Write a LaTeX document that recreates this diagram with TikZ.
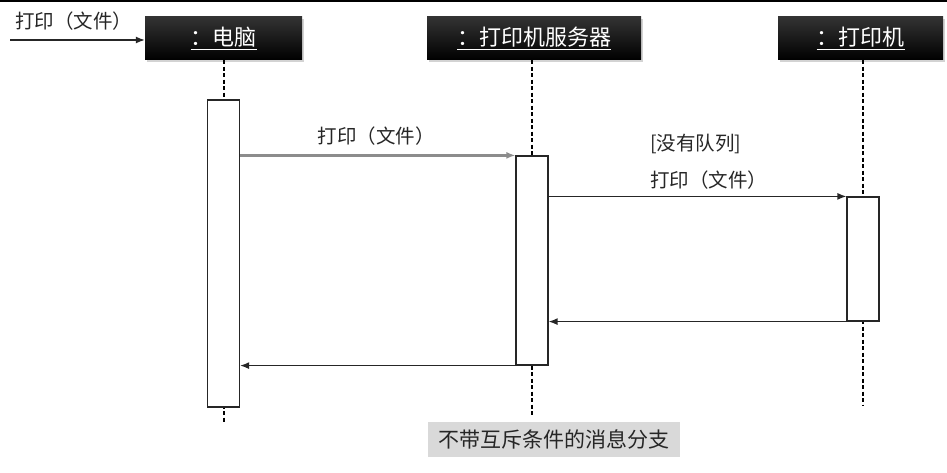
\documentclass[tikz,border=0pt]{standalone}
\usepackage{fontspec}
\setmainfont{Noto Sans CJK SC}
\usetikzlibrary{arrows.meta,shadows}

\tikzset{
  seq-head/.style={rectangle, minimum height=43pt, inner sep=0pt, top color=black!80, bottom color=black, draw=none, text=white, font=\fontsize{22}{26}\selectfont, drop shadow={shadow xshift=2pt, shadow yshift=-2pt, opacity=0.35}},
  seq-life/.style={line width=2pt, dash pattern=on 4pt off 2.5pt, draw=black},
  seq-act/.style={rectangle, draw=black!85, fill=white, line width=1.2pt, inner sep=0pt, minimum width=32pt},
  seq-msg/.style={-{Latex[length=9pt, width=7pt]}, line width=1.3pt, draw=black!85},
  seq-msg-grey/.style={-{Latex[length=9pt, width=7pt]}, line width=2.6pt, draw=black!45},
  seq-label/.style={font=\fontsize{19.5}{23}\selectfont, text=black!85, inner sep=0pt},
  seq-note/.style={rectangle, fill=black!15, inner sep=0pt, minimum width=252pt, minimum height=35pt, font=\fontsize{21}{25}\selectfont, text=black!85},
}

\begin{document}
\begin{tikzpicture}[x=1pt, y=-1pt]
    \useasboundingbox (0,0) rectangle (947,473);
    \draw[line width=2pt] (0,1) -- (947,1);

    % Nodes: object heads
    \node[seq-head, minimum width=157pt] (pc)      at (223.5, 38.5) {\underline{：电脑}};
    \node[seq-head, minimum width=214pt] (server)  at (534, 38.5)   {\underline{：打印机服务器}};
    \node[seq-head, minimum width=165pt] (printer) at (860.5, 38.5) {\underline{：打印机}};

    % Lifelines
    \coordinate (pc-end)      at (223.5, 423);
    \coordinate (server-end)  at (531.5, 415);
    \coordinate (printer-end) at (862.5, 405);
    \draw[seq-life] (pc.south) -- (pc-end);
    \draw[seq-life] (server.south -| server-end) -- (server-end);
    \draw[seq-life] (printer.south -| printer-end) -- (printer-end);

    % Nodes: activation bars
    \node[seq-act, minimum height=307pt] (pc-act)      at (223.5, 253.5) {};
    \node[seq-act, minimum height=209pt] (server-act)  at (532, 260.5)   {};
    \node[seq-act, minimum height=124pt] (printer-act) at (863, 259)     {};

    % Edges: found message
    \coordinate (start) at (10, 40);
    \draw[seq-msg] (start) -- (pc.west |- start);
    \node[seq-label] (found) at (73.5, 21) {打印（文件）};

    % Edges: calls
    \draw[seq-msg-grey] (pc-act.east |- server-act.north) -- (server-act.north west);
    \node[seq-label] (call1) at (376, 136) {打印（文件）};

    \draw[seq-msg] (server-act.east |- printer-act.north) -- (printer-act.north west);
    \node[seq-label, anchor=west] (guard) at (650, 144) {[没有队列]};
    \node[seq-label, anchor=west] (call2) at (650, 180) {打印（文件）};

    % Edges: returns
    \draw[seq-msg] (printer-act.south west) -- (server-act.east |- printer-act.south);
    \draw[seq-msg] (server-act.south west) -- (pc-act.east |- server-act.south);

    % Note
    \node[seq-note] (note) at (554, 439.5) {不带互斥条件的消息分支};

\end{tikzpicture}
\end{document}
